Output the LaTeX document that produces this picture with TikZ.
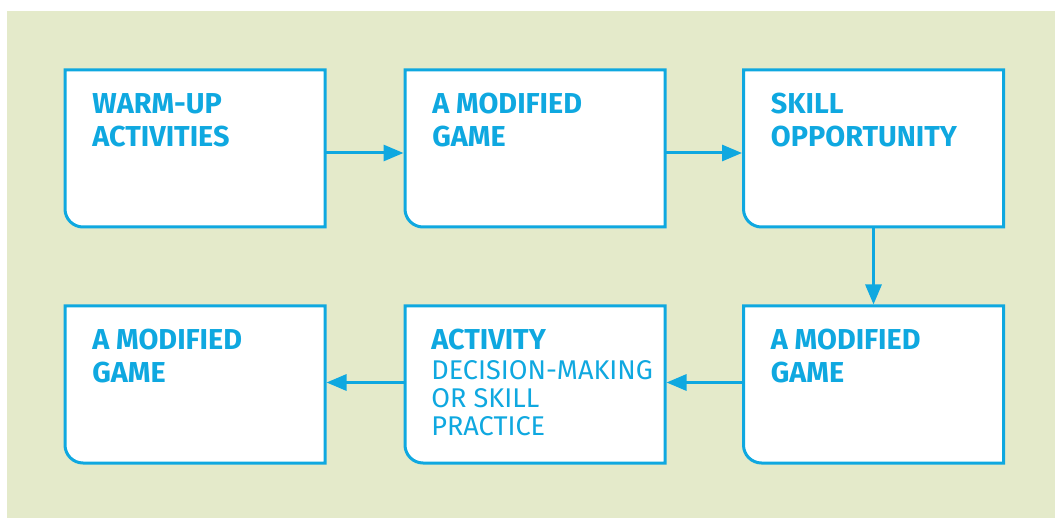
\documentclass[tikz,border=0pt]{standalone}
\usepackage{fontspec}
\setmainfont{Fira Sans}
\usetikzlibrary{positioning,arrows.meta,calc}
\definecolor{skyblue}{HTML}{0FA8E0}
\definecolor{sage}{HTML}{E4EACA}

\tikzset{
  stagebox/.style={minimum width=5.2cm, minimum height=3.14cm, inner sep=0pt, outer sep=0pt},
  stageline/.style={fill=white, draw=skyblue, line width=0.06cm},
  stagetext/.style={anchor=north west, inner sep=0pt, align=left, text=skyblue,
    font=\fontsize{16.4}{18.8}\selectfont\bfseries},
  flow/.style={skyblue, line width=0.06cm, shorten >=0.03cm,
    -{Triangle[length=0.4cm, width=0.32cm]}}
}
\newcommand{\plainline}[1]{{\fontsize{15.4}{18.8}\selectfont\mdseries #1}}

\begin{document}
\begin{tikzpicture}
  \useasboundingbox (0,0) rectangle (21.1,10.36);
  % Background panel
  \fill[sage] (0.14,0) rectangle (21.1,10.14);
  % Stage boxes: top row left to right, bottom row right to left
  \node[stagebox] (warmup) at (3.9,7.39) {};
  \node[stagebox] (gameA) at (10.7,7.39) {};
  \node[stagebox] (skill) at (17.47,7.39) {};
  \node[stagebox] (gameB) at (17.47,2.67) {};
  \node[stagebox] (practice) at (10.7,2.67) {};
  \node[stagebox] (gameC) at (3.9,2.67) {};
  % Outlines, only the bottom-left corner is rounded
  \foreach \b in {warmup,gameA,skill,gameB,practice,gameC}
    \filldraw[stageline]
      (\b.north west) -- (\b.north east) -- (\b.south east)
      -- ([xshift=0.36cm]\b.south west)
      arc[start angle=270, end angle=180, radius=0.36cm] -- cycle;
  % Labels
  \node[stagetext] (warmupT) at ([xshift=0.54cm, yshift=-0.46cm]warmup.north west)
    {WARM-UP\\ACTIVITIES};
  \node[stagetext] (gameAT) at ([xshift=0.54cm, yshift=-0.46cm]gameA.north west)
    {A MODIFIED\\GAME};
  \node[stagetext] (skillT) at ([xshift=0.54cm, yshift=-0.46cm]skill.north west)
    {SKILL\\OPPORTUNITY};
  \node[stagetext] (gameBT) at ([xshift=0.54cm, yshift=-0.46cm]gameB.north west)
    {A MODIFIED\\GAME};
  \node[stagetext] (practiceT) at ([xshift=0.52cm, yshift=-0.46cm]practice.north west)
    {ACTIVITY\\[-2pt]\plainline{DECISION-MAKING}\\[-2.8pt]\plainline{OR SKILL}\\[-2.8pt]\plainline{PRACTICE}};
  \node[stagetext] (gameCT) at ([xshift=0.54cm, yshift=-0.46cm]gameC.north west)
    {A MODIFIED\\GAME};
  % Flow arrows
  \draw[flow] ([yshift=-0.09cm]warmup.east) -- ([yshift=-0.09cm]gameA.west);
  \draw[flow] ([yshift=-0.09cm]gameA.east) -- ([yshift=-0.09cm]skill.west);
  \draw[flow] (skill.south) -- (gameB.north);
  \draw[flow] ([yshift=0.04cm]gameB.west) -- ([yshift=0.04cm]practice.east);
  \draw[flow] ([yshift=0.04cm]practice.west) -- ([yshift=0.04cm]gameC.east);
\end{tikzpicture}
\end{document}
